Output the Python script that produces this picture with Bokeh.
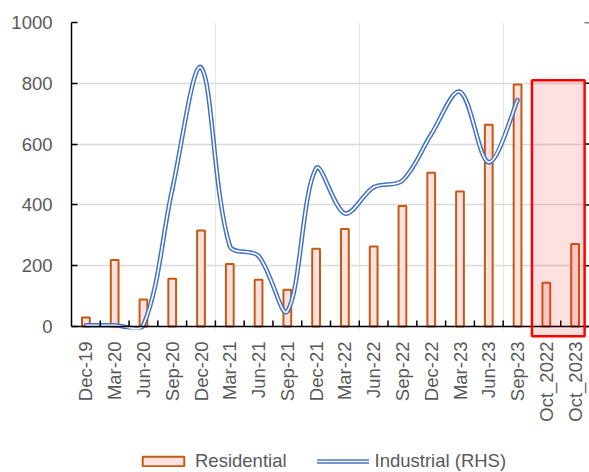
import numpy as np
from bokeh.plotting import figure
from bokeh.models import (Range1d, LinearAxis, FixedTicker, Grid, BoxAnnotation, Span,
                          Legend, LegendItem, ColumnDataSource)
from bokeh.core.properties import value
from bokeh.embed import file_html
from bokeh.resources import INLINE

# ---------------- data ----------------
categories = ["Dec-19", "Mar-20", "Jun-20", "Sep-20", "Dec-20", "Mar-21", "Jun-21", "Sep-21",
              "Dec-21", "Mar-22", "Jun-22", "Sep-22", "Dec-22", "Mar-23", "Jun-23", "Sep-23",
              "Oct_2022", "Oct_2023"]
residential = [30, 219, 89, 157, 316, 206, 154, 121, 256, 321, 263, 396, 506, 444, 664, 796, 144, 271]
industrial_categories = categories[:16]
industrial = [4, 4, 5, 450, 852, 265, 232, 50, 520, 372, 458, 480, 632, 772, 540, 745]
y_ticks = [0, 200, 400, 600, 800, 1000]
highlight_categories = ["Oct_2022", "Oct_2023"]
highlight_top = 810
highlight_bottom = -32

# ---------------- layout / style ----------------
W, H = 589, 472
FRAME_LEFT, FRAME_TOP = 71, 22
AXIS_PX = 326          # pixel row of the value 0 (category axis)
FONT = "Liberation Sans"
GRAY = "#595959"
FS = "18.5px"

ncat = len(categories)
centers = [k + 0.5 for k in range(ncat)]
y_max = max(y_ticks)
px_per_unit = (AXIS_PX - FRAME_TOP) / y_max
px_per_cat = (W - FRAME_LEFT) / ncat
y_start = -(H - AXIS_PX) / px_per_unit

p = figure(width=W, height=H,
           x_range=Range1d(0, ncat), y_range=Range1d(y_start, y_max),
           output_backend="svg", toolbar_location=None,
           x_axis_location=None, y_axis_location=None,
           min_border_left=FRAME_LEFT, min_border_right=0, min_border_top=FRAME_TOP,
           min_border_bottom=0)
p.outline_line_color = None
p.background_fill_color = "white"

yt = FixedTicker(ticks=y_ticks)

# horizontal gridlines
p.add_layout(Grid(dimension=1, ticker=yt, grid_line_color="#D9D9D9", grid_line_width=1.3))

# left value axis (line only between 0 and max)
left_axis = LinearAxis(ticker=yt, bounds=(0, y_max),
                       axis_line_color="black", axis_line_width=1.5,
                       major_tick_in=6, major_tick_out=0, major_tick_line_width=1.5,
                       minor_tick_line_color=None,
                       major_label_text_font=FONT, major_label_text_font_size=FS,
                       major_label_text_color=GRAY, major_label_standoff=19)
p.add_layout(left_axis, "left")

# bars
bar_src = ColumnDataSource(dict(x=centers, val=residential))
bars = p.vbar(x="x", top="val", width=0.27, source=bar_src,
              fill_color="#FFE1E1", line_color="#C55A11", line_width=2)

# smoothed industrial line: Bezier segments with chord-weighted tangents (Excel-like smoothing)
xs = np.array([categories.index(c) + 0.5 for c in industrial_categories])
ys = np.array(industrial, dtype=float)
n = len(xs)
d = np.hypot(np.diff(xs) * px_per_cat, np.diff(ys) * px_per_unit)   # screen-space chord lengths
k = np.arange(n)
tx = xs[np.minimum(k + 1, n - 1)] - xs[np.maximum(k - 1, 0)]
ty = ys[np.minimum(k + 1, n - 1)] - ys[np.maximum(k - 1, 0)]
seg = np.arange(n - 1)
d_prev = np.concatenate([[d[0]], d[:-1]])      # chord before each segment's start point
d_next = np.concatenate([d[1:], [d[-1]]])      # chord after each segment's end point
f0 = d / (3 * (d_prev + d))
f1 = d / (3 * (d + d_next))
bz = ColumnDataSource(dict(
    x0=xs[seg], y0=ys[seg], x1=xs[seg + 1], y1=ys[seg + 1],
    cx0=xs[seg] + tx[seg] * f0, cy0=ys[seg] + ty[seg] * f0,
    cx1=xs[seg + 1] - tx[seg + 1] * f1, cy1=ys[seg + 1] - ty[seg + 1] * f1,
))
bz_kw = dict(x0="x0", y0="y0", x1="x1", y1="y1", cx0="cx0", cy0="cy0", cx1="cx1", cy1="cy1",
             source=bz, line_cap="round")
line_outer = p.bezier(line_color="#4472C4", line_width=4.6, **bz_kw)
line_inner = p.bezier(line_color="white", line_width=1.6, **bz_kw)

# the chart area ends just below the category axis: hide what falls beneath it
p.quad(left=0, right=ncat, top=-3 / px_per_unit, bottom=y_start,
       fill_color="white", line_color=None)

# category axis line + tick marks at category boundaries
p.add_layout(Span(location=0, dimension="width", line_color="black", line_width=1.5))
p.segment(x0=list(range(1, ncat)), x1=list(range(1, ncat)),
          y0=0, y1=6 / px_per_unit, line_color="black", line_width=1.5)
# right-hand axis tick marks
p.segment(x0=ncat - 5 / px_per_cat, x1=ncat, y0=y_ticks, y1=y_ticks,
          line_color="black", line_width=1.5)

# category labels (rotated, reading upward)
p.text(x=centers, y=0, text=categories, angle=np.pi / 2, y_offset=15,
       text_align="right", text_baseline="middle",
       text_font=value(FONT), text_font_size=value(FS), text_color=GRAY)

# highlight box
hl_left = categories.index(highlight_categories[0])
hl_right = categories.index(highlight_categories[-1]) + 0.83
box = BoxAnnotation(left=hl_left, right=hl_right, bottom=highlight_bottom, top=highlight_top,
                    fill_color="#FF0000", fill_alpha=0.12,
                    line_color="#FF0000", line_alpha=1.0, line_width=2.5)
p.add_layout(box)

legend = Legend(items=[LegendItem(label="Residential", renderers=[bars]),
                       LegendItem(label="Industrial (RHS)", renderers=[line_outer, line_inner])],
                orientation="horizontal", location=(66, 0), padding=0, margin=0,
                border_line_color=None, background_fill_alpha=0,
                glyph_width=52, glyph_height=12, label_standoff=6, spacing=30,
                label_text_font=FONT, label_text_font_size=FS, label_text_color=GRAY,
                label_height=20)
p.add_layout(legend, "center")

open("out.html", "w").write(file_html(p, INLINE))
